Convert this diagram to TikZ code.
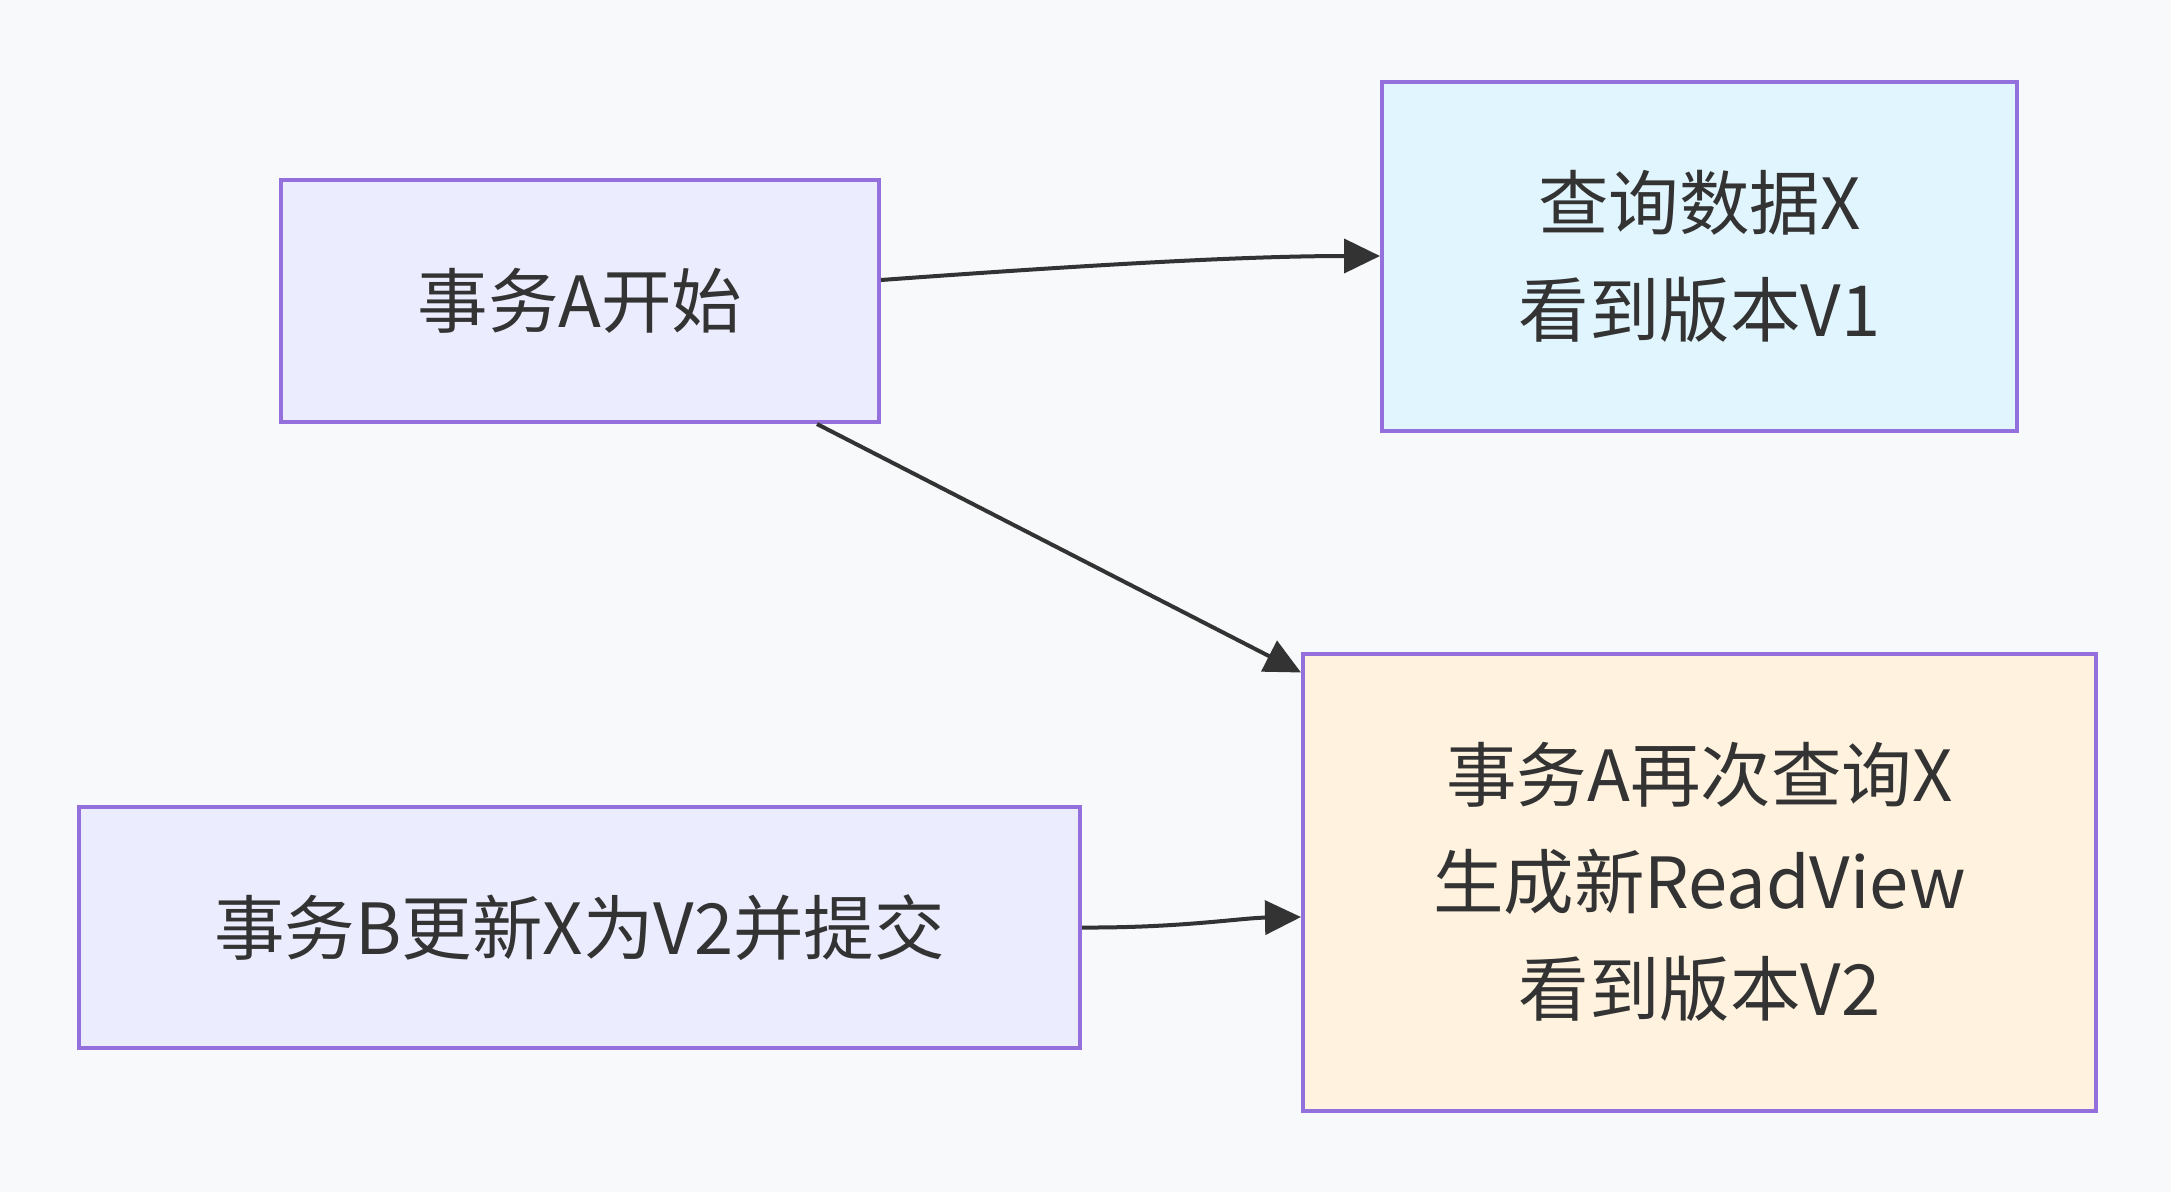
\documentclass[tikz,border=0pt]{standalone}
\usepackage{fontspec}
\setmainfont{Noto Sans CJK SC}
\usetikzlibrary{arrows.meta,calc}
\definecolor{bgc}{HTML}{F8F9FB}
\definecolor{purplefill}{HTML}{ECECFF}
\definecolor{bluefill}{HTML}{E1F5FE}
\definecolor{orangefill}{HTML}{FFF3E0}
\definecolor{strokec}{HTML}{9370DB}
\definecolor{textc}{HTML}{333333}
\tikzset{
  box/.style={draw=strokec, line width=4pt, text=textc, align=center, inner sep=0pt,
    font=\fontsize{70.5}{107}\selectfont},
  conn/.style={draw=textc, line width=4pt, -{Triangle[length=36pt,width=34pt]}},
}
\begin{document}
\begin{tikzpicture}[x=1pt,y=-1pt]
\useasboundingbox (0,0) rectangle (2171,1192);
\fill[bgc] (0,0) rectangle (2171,1192);
\node[box, fill=purplefill, minimum width=598pt, minimum height=242pt] (A) at (580,301) {事务A开始};
\node[box, fill=bluefill, minimum width=635pt, minimum height=349pt] (Q) at (1699.5,256) {查询数据X\\看到版本V1};
\node[box, fill=purplefill, minimum width=1001pt, minimum height=241pt] (B) at (579.5,927.5) {事务B更新X为V2并提交};
\node[box, fill=orangefill, minimum width=793pt, minimum height=457pt] (R) at (1699.5,882) {事务A再次查询X\\生成新ReadView\\看到版本V2};
\coordinate (a1) at ($(A.east)+(0,-21)$);
\coordinate (a2) at ($(A.south)+(237,0)$);
\coordinate (r1) at ($(R.north west)+(0,21)$);
\coordinate (r2) at ($(R.west)+(0,35)$);
\draw[conn] (a1) .. controls (1100,264) and (1250,256) .. (Q.west);
\draw[conn] (a2) -- (r1);
\draw[conn] (B.east) .. controls (1180,928) and (1240,918) .. (r2);
\end{tikzpicture}
\end{document}
